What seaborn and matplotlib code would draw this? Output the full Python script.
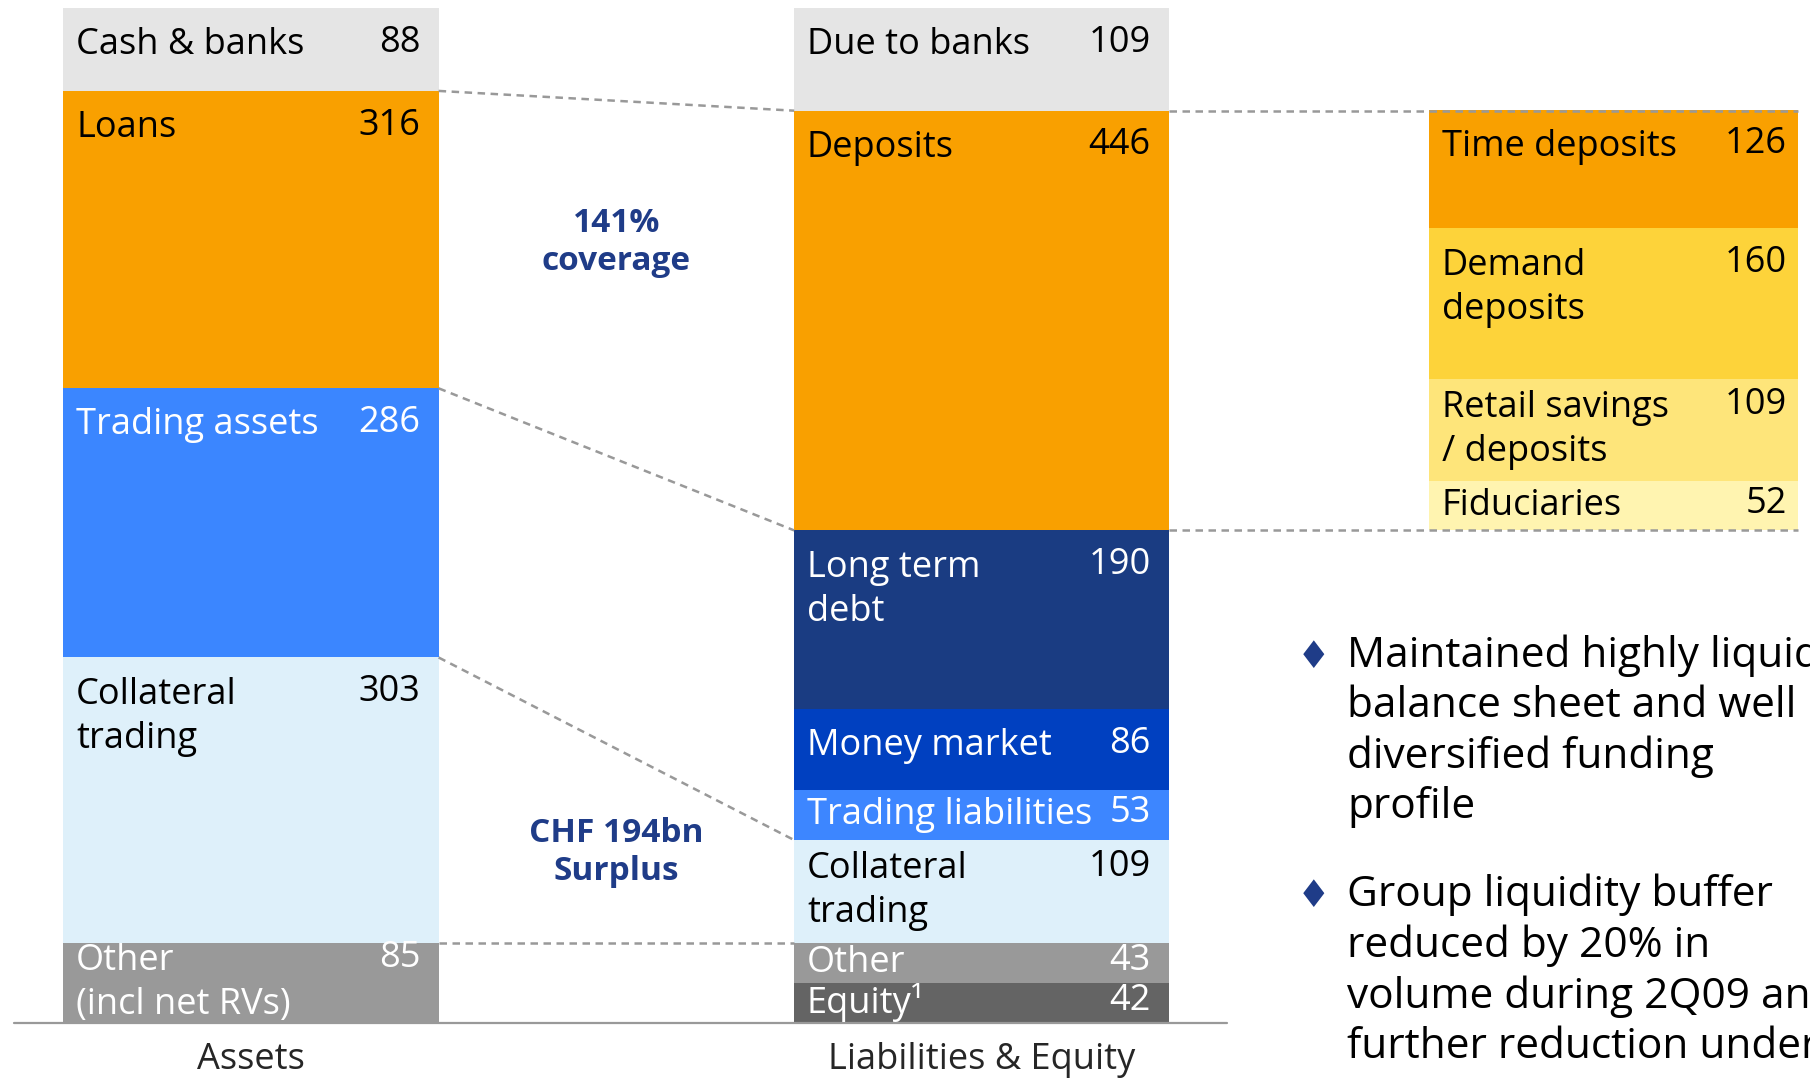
import matplotlib
matplotlib.use("Agg")
import matplotlib.pyplot as plt
import seaborn as sns

# balance sheet, CHF bn, each stack listed top to bottom
columns = ["Assets", "Liabilities & Equity"]

asset_labels = ["Cash & banks", "Loans", "Trading assets", "Collateral\ntrading", "Other\n(incl net RVs)"]
asset_values = [88, 316, 286, 303, 85]
asset_colors = ["#e5e5e5", "#f9a000", "#3b86ff", "#def0fa", "#999999"]

liab_labels = ["Due to banks", "Deposits", "Long term\ndebt", "Money market",
               "Trading liabilities", "Collateral\ntrading", "Other", "Equity\u00b9"]
liab_values = [109, 446, 190, 86, 53, 109, 43, 42]
liab_colors = ["#e5e5e5", "#f9a000", "#1a3c82", "#0040c0", "#3d86ff", "#def0fa", "#999999", "#646464"]

dep_labels = ["Time deposits", "Demand\ndeposits", "Retail savings\n/ deposits", "Fiduciaries"]
dep_values = [126, 160, 109, 52]
dep_colors = ["#f9a000", "#fdd33a", "#fee57a", "#fff4b0"]

# asset segment top -> liability segment top (index into the lists above)
links = [(1, 1), (2, 2), (3, 5), (4, 6)]

coverage_text = "141%\ncoverage"
surplus_text = "CHF 194bn\nSurplus"
bullets = ["Maintained highly liquid\nbalance sheet and well\ndiversified funding\nprofile",
           "Group liquidity buffer\nreduced by 20% in\nvolume during 2Q09 and\nfurther reduction under"]

navy = "#1f3c88"
line_grey = "#999999"

sns.set_theme(style="white")
plt.rcParams["font.family"] = ["Open Sans", "DejaVu Sans"]

fig = plt.figure(figsize=(18.1, 10.8), dpi=100)
ax = fig.add_axes([0, 0.0531, 1, 0.9394])

total = sum(asset_values)
U = total / (0.9394 * 1080) * 1.1543   # data units per px of the 1568-wide view
W = 0.5134
dep_x, dep_w = 1.8648, 0.5055


def tops_of(values, start):
    out, t = [], start
    for v in values:
        out.append(t)
        t -= v
    return out


asset_tops = tops_of(asset_values, total)
liab_tops = tops_of(liab_values, sum(liab_values))
dep_tops = tops_of(dep_values, liab_tops[1] - liab_values[1] + sum(dep_values))

for col, values, colors, tops in [(columns[0], asset_values, asset_colors, asset_tops),
                                  (columns[1], liab_values, liab_colors, liab_tops)]:
    for v, c, t in zip(values, colors, tops):
        sns.barplot(x=[col], y=[v], order=columns, bottom=t - v, color=c,
                    saturation=1, width=W, linewidth=0, errorbar=None, ax=ax)

for v, c, t in zip(dep_values, dep_colors, dep_tops):
    ax.bar(dep_x, v, bottom=t - v, width=dep_w, color=c, linewidth=0)


def is_dark(hexcol):
    r, g, b = (int(hexcol[i:i + 2], 16) for i in (1, 3, 5))
    return 0.299 * r + 0.587 * g + 0.114 * b < 160


def put_labels(xc, w, labels, values, colors, tops, rpad):
    for lab, v, c, t in zip(labels, values, colors, tops):
        seg = v / U
        n = lab.count("\n") + 1
        first = min(32, (seg - (n - 1) * 39) / 2)
        tc = "white" if is_dark(c) else "black"
        ax.text(xc - w / 2 + 0.0174, t - (first + (n - 1) * 19.5) * U, lab,
                ha="left", va="center", fontsize=26, color=tc, linespacing=1.3)
        ax.text(xc + w / 2 - rpad, t - (first - 2) * U, str(v),
                ha="right", va="center", fontsize=26, color=tc)


put_labels(0, W, asset_labels, asset_values, asset_colors, asset_tops, 0.0253)
put_labels(1, W, liab_labels, liab_values, liab_colors, liab_tops, 0.0253)
put_labels(dep_x, dep_w, dep_labels, dep_values, dep_colors, dep_tops, 0.0158)

# dashed connectors
for a, l in links:
    ax.plot([W / 2, 1 - W / 2], [asset_tops[a], liab_tops[l]], color=line_grey,
            lw=1.8, ls=(0, (3, 2.2)))
for y in [liab_tops[1], liab_tops[2]]:
    ax.plot([1 + W / 2, dep_x + dep_w / 2], [y, y], color=line_grey, lw=1.8, ls=(0, (3, 2.2)))

# baseline
ax.plot([-0.3247, 1.336], [0, 0], color=line_grey, lw=1.6, clip_on=False)

ax.text(0.5, 829, coverage_text, ha="center", va="center", fontsize=24,
        fontweight="bold", color=navy, linespacing=1.2)
ax.text(0.5, 181, surplus_text, ha="center", va="center", fontsize=24,
        fontweight="bold", color=navy, linespacing=1.2)

for txt, yc, yd in zip(bullets, [309.7, 55.2], [387.5, 133.7]):
    ax.text(1.454, yd, "\u2666", ha="center", va="center", fontsize=27,
            color=navy, family="DejaVu Sans")
    ax.text(1.4999, yc, txt, ha="left", va="center", fontsize=30.5,
            color="black", linespacing=1.25)

ax.set_xlim(-0.3436, 2.1335)
ax.set_ylim(0, total)
ax.set_xticks([0, 1])
ax.set_xticklabels(columns, fontsize=26)
ax.tick_params(axis="x", length=0, pad=14)
ax.set_yticks([])
ax.set_xlabel("")
ax.set_ylabel("")
sns.despine(ax=ax, left=True, bottom=True)

fig.savefig("out.png", dpi=100)
